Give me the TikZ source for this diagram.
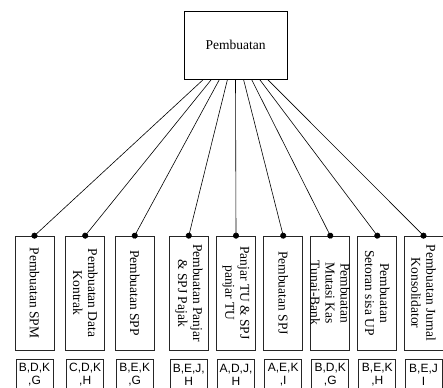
\documentclass[tikz,border=0pt]{standalone}
\usepackage{fontspec}
\setmainfont{Liberation Serif}
\newfontfamily\codefont{Liberation Sans}
\usetikzlibrary{positioning,arrows.meta}
\tikzset{
  line/.style={draw, line width=0.6pt, -{Circle[length=6pt]}, shorten >=-3pt},
  topnode/.style={
    rectangle,
    draw=black, line width=0.7pt,
    minimum width=103pt,
    minimum height=68pt,
    font=\fontsize{13.5}{15}\selectfont},
  activitynode/.style={
    rectangle,
    draw=black!85, line width=0.7pt,
    minimum width=39pt,
    minimum height=114pt},
  activitytext/.style={
    rotate=-90,
    align=center,
    inner sep=0pt,
    font=\fontsize{13.5}{15}\selectfont},
  codenode/.style={
    rectangle,
    draw=black!85, line width=0.7pt,
    minimum width=37pt,
    minimum height=30pt,
    inner sep=1pt,
    align=center,
    font=\codefont\fontsize{12}{12.5}\selectfont},
}
\begin{document}
\begin{tikzpicture}[x=1pt,y=-1pt]
\useasboundingbox (0,0) rectangle (443,387);

%Nodes
\node[topnode]      (pembuatan)    at (235.5,45)  {Pembuatan};

\node[activitynode] (spm)          at (34.5,293)  {};
\node[activitynode] (datakontrak)  at (85.2,293)  {};
\node[activitynode] (spp)          at (134.7,293) {};
\node[activitynode] (panjarpajak)  at (188.8,293) {};
\node[activitynode] (panjartu)     at (236,293)   {};
\node[activitynode] (spj)          at (283.2,293) {};
\node[activitynode] (mutasikas)    at (330.3,293) {};
\node[activitynode] (setoranup)    at (377.3,293) {};
\node[activitynode] (jurnal)       at (423.5,293) {};

\node[activitytext] (spm-text)         at (spm)         {Pembuatan SPM};
\node[activitytext] (datakontrak-text) at (datakontrak) {Pembuatan Data\\Kontrak};
\node[activitytext] (spp-text)         at (spp)         {Pembuatan SPP};
\node[activitytext] (panjarpajak-text) at (panjarpajak) {Pembuatan Panjar\\\& SPJ Pajak};
\node[activitytext] (panjartu-text)    at (panjartu)    {Panjar TU \& SPJ\\panjar TU};
\node[activitytext] (spj-text)         at (spj)         {Pembuatan SPJ};
\node[activitytext] (mutasikas-text)   at (mutasikas)   {Pembuatan\\Mutasi Kas\\Tunai-Bank};
\node[activitytext] (setoranup-text)   at (setoranup)   {Pembuatan\\Setoran sisa UP};
\node[activitytext] (jurnal-text)      at (jurnal)      {Pembuatan Jurnal\\Konsolidator};

\node[codenode] (spm-code)         [below=9pt of spm]         {B,D,K\\,G};
\node[codenode] (datakontrak-code) [below=9pt of datakontrak] {C,D,K\\,H};
\node[codenode] (spp-code)         [below=9pt of spp]         {B,E,K\\,G};
\node[codenode] (panjarpajak-code) [below=9pt of panjarpajak] {B,E,J,\\H};
\node[codenode] (panjartu-code)    [below=9pt of panjartu]    {A,D,J,\\H};
\node[codenode] (spj-code)         [below=9pt of spj]         {A,E,K\\,I};
\node[codenode] (mutasikas-code)   [below=9pt of mutasikas]   {B,D,K\\,G};
\node[codenode] (setoranup-code)   [below=9pt of setoranup]   {B,E,K\\,H};
\node[codenode] (jurnal-code)      [below=9pt of jurnal]      {B,E,J\\I};

%Start points on the main box
\coordinate (s1) at ([xshift=-32pt]pembuatan.south);
\coordinate (s2) at ([xshift=-24pt]pembuatan.south);
\coordinate (s3) at ([xshift=-16pt]pembuatan.south);
\coordinate (s4) at ([xshift=-8pt]pembuatan.south);
\coordinate (s5) at (pembuatan.south);
\coordinate (s6) at ([xshift=8pt]pembuatan.south);
\coordinate (s7) at ([xshift=16pt]pembuatan.south);
\coordinate (s8) at ([xshift=24pt]pembuatan.south);
\coordinate (s9) at ([xshift=32pt]pembuatan.south);

%Lines
\draw[line] (s1) -- (spm.north);
\draw[line] (s2) -- (datakontrak.north);
\draw[line] (s3) -- (spp.north);
\draw[line] (s4) -- (panjarpajak.north);
\draw[line] (s5) -- (panjartu.north);
\draw[line] (s6) -- (spj.north);
\draw[line] (s7) -- (mutasikas.north);
\draw[line] (s8) -- (setoranup.north);
\draw[line] (s9) -- (jurnal.north);

\end{tikzpicture}
\end{document}
